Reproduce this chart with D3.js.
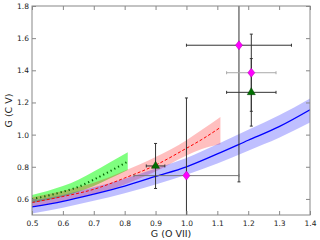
<!DOCTYPE html>
<html>
<head>
<meta charset="utf-8">
<script src="https://cdn.jsdelivr.net/npm/d3@7"></script>
<style>
  body { margin: 0; background: #fff; }
  svg { display: block; font-family: "DejaVu Sans", sans-serif; }
</style>
</head>
<body>
<div id="chart"></div>
<script>
// model curves
const blueX  = [0.5, 0.6, 0.7, 0.8, 0.9, 1.0, 1.1, 1.2, 1.3, 1.4];
const blueY  = [0.55, 0.585, 0.63, 0.68, 0.74, 0.80, 0.88, 0.965, 1.05, 1.155];
const blueLo = [0.51, 0.545, 0.588, 0.635, 0.69, 0.75, 0.82, 0.90, 0.98, 1.075];
const blueHi = [0.59, 0.625, 0.672, 0.725, 0.79, 0.855, 0.94, 1.03, 1.12, 1.225];

const redX  = [0.5, 0.6, 0.7, 0.8, 0.9, 1.0, 1.05, 1.11];
const redY  = [0.578, 0.615, 0.66, 0.73, 0.81, 0.915, 0.97, 1.045];
const redLo = [0.55, 0.585, 0.63, 0.69, 0.77, 0.87, 0.91, 0.94];
const redHi = [0.61, 0.65, 0.70, 0.775, 0.86, 0.965, 1.03, 1.11];

const greenX  = [0.5, 0.55, 0.6, 0.65, 0.7, 0.75, 0.81];
const greenY  = [0.598, 0.62, 0.645, 0.675, 0.72, 0.77, 0.832];
const greenLo = [0.575, 0.593, 0.615, 0.645, 0.68, 0.725, 0.78];
const greenHi = [0.625, 0.65, 0.68, 0.72, 0.77, 0.825, 0.89];

// observations
const diamX   = [1.17, 1.0, 1.21];
const diamY   = [1.556, 0.745, 1.385];
const diamXe  = [0.17, 0.17, 0.08];
const diamYe  = [0.85, 0.483, 0.24];
const triX    = [0.9, 1.21];
const triY    = [0.805, 1.263];
const triXe   = [0.03, 0.08];
const triYe   = [0.14, 0.21];

const xTicks = [0.5, 0.6, 0.7, 0.8, 0.9, 1.0, 1.1, 1.2, 1.3, 1.4];
const yTicks = [0.6, 0.8, 1.0, 1.2, 1.4, 1.6, 1.8];

const margin = {top: 6, right: 10, bottom: 25, left: 32};
const width = 320 - margin.left - margin.right;
const height = 240 - margin.top - margin.bottom;

const x = d3.scaleLinear().domain([0.5, 1.4]).range([0, width]);
const y = d3.scaleLinear().domain([0.5, 1.8]).range([height, 0]);

const svg = d3.select("#chart").append("svg")
    .attr("width", 320).attr("height", 240)
  .append("g")
    .attr("transform", "translate(" + margin.left + "," + margin.top + ")");

svg.append("clipPath").attr("id", "clip")
  .append("rect").attr("width", width).attr("height", height);

const plot = svg.append("g").attr("clip-path", "url(#clip)");

function band(xs, lo, hi) {
  return d3.area()
    .x((d, i) => x(xs[i]))
    .y0((d, i) => y(lo[i]))
    .y1((d, i) => y(hi[i]))
    .curve(d3.curveMonotoneX)(xs);
}
function line(xs, ys) {
  return d3.line()
    .x((d, i) => x(xs[i]))
    .y((d, i) => y(ys[i]))
    .curve(d3.curveMonotoneX)(xs);
}

// bands
plot.append("path").attr("d", band(greenX, greenLo, greenHi))
  .attr("fill", "#00ff00").attr("fill-opacity", 0.5);
plot.append("path").attr("d", band(redX, redLo, redHi))
  .attr("fill", "#ff0000").attr("fill-opacity", 0.25);
plot.append("path").attr("d", band(blueX, blueLo, blueHi))
  .attr("fill", "#0000ff").attr("fill-opacity", 0.25);

// lines
plot.append("path").attr("d", line(blueX, blueY))
  .attr("fill", "none").attr("stroke", "#0000ff").attr("stroke-width", 1.3);
plot.append("path").attr("d", line(redX, redY))
  .attr("fill", "none").attr("stroke", "#ff0000").attr("stroke-width", 1)
  .attr("stroke-dasharray", "3,2");
plot.append("path").attr("d", line(greenX, greenY))
  .attr("fill", "none").attr("stroke", "#006400").attr("stroke-width", 2)
  .attr("stroke-dasharray", "1.2,3");

// error bars
function errbars(xs, ys, xe, ye, hcol, vcol) {
  xs.forEach((xv, i) => {
    const g = plot.append("g");
    const hc = Array.isArray(hcol) ? hcol[i] : hcol;
    g.append("line")
      .attr("x1", x(xv - xe[i])).attr("x2", x(xv + xe[i]))
      .attr("y1", y(ys[i])).attr("y2", y(ys[i]))
      .attr("stroke", hc).attr("stroke-width", 1);
    [xv - xe[i], xv + xe[i]].forEach(c => {
      g.append("line")
        .attr("x1", x(c)).attr("x2", x(c))
        .attr("y1", y(ys[i]) - 1.5).attr("y2", y(ys[i]) + 1.5)
        .attr("stroke", hc).attr("stroke-width", 1);
    });
    g.append("line")
      .attr("x1", x(xv)).attr("x2", x(xv))
      .attr("y1", y(ys[i] - ye[i])).attr("y2", y(ys[i] + ye[i]))
      .attr("stroke", vcol).attr("stroke-width", 1);
    [ys[i] - ye[i], ys[i] + ye[i]].forEach(c => {
      g.append("line")
        .attr("x1", x(xv) - 1.5).attr("x2", x(xv) + 1.5)
        .attr("y1", y(c)).attr("y2", y(c))
        .attr("stroke", vcol).attr("stroke-width", 1);
    });
  });
}
errbars(diamX, diamY, diamXe, diamYe, ["#333", "#777", "#aaa"], "#333");
errbars(triX, triY, triXe, triYe, "#333", "#333");

// markers
svg.selectAll(".diam").data(diamX).enter().append("path")
  .attr("class", "diam")
  .attr("d", "M0,-4.5L3.5,0L0,4.5L-3.5,0Z")
  .attr("transform", (d, i) => "translate(" + x(d) + "," + y(diamY[i]) + ")")
  .attr("fill", "#ff00ff").attr("stroke", "#b000b0").attr("stroke-width", 0.5);
svg.selectAll(".tri").data(triX).enter().append("path")
  .attr("class", "tri")
  .attr("d", d3.symbol().type(d3.symbolTriangle).size(28))
  .attr("transform", (d, i) => "translate(" + x(d) + "," + y(triY[i]) + ")")
  .attr("fill", "#007000").attr("stroke", "#004000").attr("stroke-width", 0.5);

// axes, ticks inward on all four sides
const axisCol = "#888";
svg.append("g").attr("transform", "translate(0," + height + ")")
  .call(d3.axisBottom(x).tickValues(xTicks).tickSizeInner(-4).tickSizeOuter(0)
    .tickPadding(6).tickFormat(d3.format(".1f")))
  .call(g => g.select(".domain").remove());
svg.append("g")
  .call(d3.axisTop(x).tickValues(xTicks).tickSizeInner(-4).tickSizeOuter(0).tickFormat(""))
  .call(g => g.select(".domain").remove());
svg.append("g")
  .call(d3.axisLeft(y).tickValues(yTicks).tickSizeInner(-4).tickSizeOuter(0)
    .tickPadding(3).tickFormat(d3.format(".1f")))
  .call(g => g.select(".domain").remove());
svg.append("g").attr("transform", "translate(" + width + ",0)")
  .call(d3.axisRight(y).tickValues(yTicks).tickSizeInner(-4).tickSizeOuter(0).tickFormat(""))
  .call(g => g.select(".domain").remove());

svg.selectAll(".tick line").attr("stroke", axisCol);
svg.selectAll(".tick text").attr("fill", "#222").style("font-size", "7.5px")
  .style("font-family", "'DejaVu Sans', sans-serif");

svg.append("rect").attr("width", width).attr("height", height)
  .attr("fill", "none").attr("stroke", axisCol).attr("stroke-width", 1);

svg.append("text")
  .attr("x", width / 2).attr("y", height + 22)
  .attr("text-anchor", "middle").style("font-size", "9.5px").attr("fill", "#222")
  .text("G (O VII)");
svg.append("text")
  .attr("transform", "rotate(-90)")
  .attr("x", -height / 2).attr("y", -20)
  .attr("text-anchor", "middle").style("font-size", "9.5px").attr("fill", "#222")
  .text("G (C V)");
</script>
</body>
</html>
